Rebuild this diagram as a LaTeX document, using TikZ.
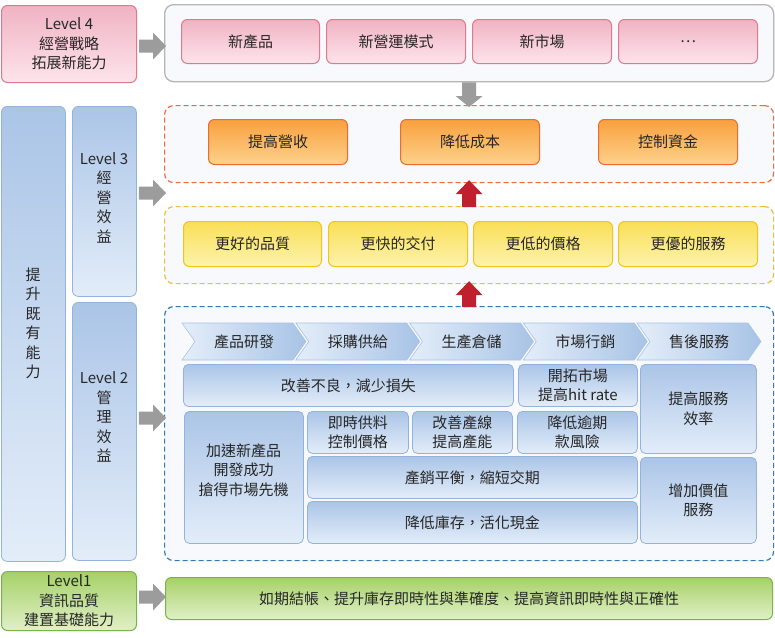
\documentclass[tikz,border=0pt]{standalone}
\usepackage{fontspec}
\setmainfont{Noto Sans CJK TC}
\usetikzlibrary{calc}
\definecolor{txt}{HTML}{262626}
\definecolor{pinkt}{HTML}{F0B3C3}
\definecolor{pinkb}{HTML}{FDE4EB}
\definecolor{pinkd}{HTML}{E0798D}
\definecolor{contf}{HTML}{F7F9FC}
\definecolor{contd}{HTML}{B5B5B5}
\definecolor{orat}{HTML}{F9A03E}
\definecolor{orab}{HTML}{FDD28C}
\definecolor{orad}{HTML}{F06A2E}
\definecolor{oradash}{HTML}{F26A3A}
\definecolor{yelt}{HTML}{F9DF58}
\definecolor{yelb}{HTML}{FDF3AC}
\definecolor{yeld}{HTML}{F3C51C}
\definecolor{yeldash}{HTML}{E8C03A}
\definecolor{blut}{HTML}{ABC5E7}
\definecolor{blub}{HTML}{E3EDF9}
\definecolor{blud}{HTML}{93B3DD}
\definecolor{bludash}{HTML}{2F7BC0}
\definecolor{chl}{HTML}{E4EEF9}
\definecolor{chr}{HTML}{A8C3E6}
\definecolor{grnt}{HTML}{A6D168}
\definecolor{grnb}{HTML}{E1F0C7}
\definecolor{grnd}{HTML}{78B548}
\definecolor{garr}{HTML}{9C9C9C}
\definecolor{rarr}{HTML}{C0202E}
\newcommand\fs{\fontsize{15}{19.5}\selectfont}
\newcommand\bx[7]{\node[#6, anchor=north west, minimum width={#4-#2}, minimum height={#5-#3}] (#1) at (#2,#3) {#7};}
\newcommand\harr[2]{\fill[garrow] ($(#1)+(0,-6.5)$) -- ($(#2)+(-13,-6.5)$) -- ($(#2)+(-13,-13.5)$) -- (#2) -- ($(#2)+(-13,13.5)$) -- ($(#2)+(-13,6.5)$) -- ($(#1)+(0,6.5)$) -- cycle;}
\newcommand\darr[3]{\fill[#1] ($(#2)+(-7,0)$) -- ($(#3)+(-7,-11)$) -- ($(#3)+(-13.5,-11)$) -- (#3) -- ($(#3)+(13.5,-11)$) -- ($(#3)+(7,-11)$) -- ($(#2)+(7,0)$) -- cycle;}
\newcommand\uarr[3]{\fill[#1] ($(#2)+(-7,0)$) -- ($(#3)+(-7,14)$) -- ($(#3)+(-13.5,14)$) -- (#3) -- ($(#3)+(13.5,14)$) -- ($(#3)+(7,14)$) -- ($(#2)+(7,0)$) -- cycle;}
\begin{document}
\begin{tikzpicture}[x=1pt,y=-1pt,
  every node/.style={text=txt, font=\fs, align=center, inner sep=0pt},
  pinkbox/.style={draw=pinkd, line width=1pt, rounded corners=6pt, top color=pinkt, bottom color=pinkb},
  orabox/.style={draw=orad, line width=1pt, rounded corners=6pt, top color=orat, bottom color=orab},
  yelbox/.style={draw=yeld, line width=1pt, rounded corners=6pt, top color=yelt, bottom color=yelb},
  blubox/.style={draw=blud, line width=0.8pt, rounded corners=6pt, top color=blut, bottom color=blub},
  bitem/.style={draw=blud, line width=0.8pt, rounded corners=5pt, top color=blut, bottom color=blub},
  grnbox/.style={draw=grnd, line width=1pt, rounded corners=6pt, top color=grnt, bottom color=grnb},
  graycont/.style={draw=contd, line width=1.3pt, rounded corners=9pt, fill=contf},
  dashcont/.style={line width=1.2pt, dash pattern=on 5pt off 3pt, rounded corners=9pt, fill=contf},
  chev/.style={draw=chr, line width=0.6pt, left color=chl, right color=chr},
  garrow/.style={fill=garr},
  rarrow/.style={fill=rarr}]
\useasboundingbox[fill=white] (0,0) rectangle (775,637);
% containers
\bx{top}{164}{4}{773}{81}{graycont}{}
\bx{c3}{164}{105}{773}{182}{dashcont, draw=oradash}{}
\bx{c2y}{164}{206}{773}{283}{dashcont, draw=yeldash}{}
\bx{c2}{164}{306}{773}{560}{dashcont, draw=bludash}{}
\bx{c1}{165}{577}{772}{619}{grnbox}{如期結帳、提升庫存即時性與準確度、提高資訊即時性與正確性}
% level boxes
\bx{l4}{1}{5}{136}{82}{pinkbox}{Level 4\\經營戰略\\拓展新能力}
\bx{lp}{1}{106}{65}{561}{blubox}{}
\bx{l3}{72}{106}{136}{296}{blubox}{}
\bx{l2}{72}{302}{136}{560}{blubox}{}
\bx{l1}{1}{571}{136}{630}{grnbox}{Level1\\資訊品質\\建置基礎能力}
\node (lpt) at (33,323.5) {提\\升\\既\\有\\能\\力};
\node (l3t) at (104,197.5) {Level 3\\經\\營\\效\\益};
\node (l2t) at (104,417) {Level 2\\管\\理\\效\\益};
% level 4 items
\bx{p1}{181}{19}{319}{63}{pinkbox}{新產品}
\bx{p2}{326}{19}{465}{63}{pinkbox}{新營運模式}
\bx{p3}{472}{19}{611}{63}{pinkbox}{新市場}
\bx{p4}{618}{19}{757}{63}{pinkbox}{…}
% level 3 items
\bx{o1}{208}{119}{347}{164}{orabox}{提高營收}
\bx{o2}{400}{119}{539}{164}{orabox}{降低成本}
\bx{o3}{598}{119}{737}{164}{orabox}{控制資金}
\bx{y1}{183}{221}{321}{266}{yelbox}{更好的品質}
\bx{y2}{328}{221}{467}{266}{yelbox}{更快的交付}
\bx{y3}{473}{221}{612}{266}{yelbox}{更低的價格}
\bx{y4}{618}{221}{757}{266}{yelbox}{更優的服務}
% chevrons
\foreach \i/\t [count=\n] in {0/產品研發, 1/採購供給, 2/生產倉儲, 3/市場行銷, 4/售後服務} {
  \pgfmathsetmacro\xa{182+113.75*\i}
  \path[chev] (\xa,323) -- ++(111,0) -- ++(13,18.5) -- ++(-13,18.5) -- ++(-111,0) -- ++(13,-18.5) -- cycle;
  \node (ch\n) at (\xa+62,341.5) {\t};
}
% level 2 items
\bx{b1}{183}{364}{513}{406}{bitem}{改善不良，減少損失}
\bx{b2}{518}{364}{637}{406}{bitem}{開拓市場\\提高hit rate}
\bx{b3}{640}{364}{756}{453}{bitem}{提高服務\\效率}
\bx{b4}{184}{411}{303}{543}{bitem}{}
\node (b4t) at (243.5,470) {加速新產品\\開發成功\\搶得市場先機};
\bx{b5}{307}{411}{408}{453}{bitem}{即時供料\\控制價格}
\bx{b6}{412}{411}{512}{453}{bitem}{改善產線\\提高產能}
\bx{b7}{517}{411}{637}{453}{bitem}{降低逾期\\款風險}
\bx{b8}{307}{456}{637}{498}{bitem}{產銷平衡，縮短交期}
\bx{b9}{307}{501}{637}{543}{bitem}{降低庫存，活化現金}
\bx{b10}{640}{457}{756}{543}{bitem}{增加價值\\服務}
% arrows
\coordinate (y4) at (0,46);
\coordinate (y3) at (0,193);
\coordinate (y2) at (0,418);
\coordinate (y1) at (0,597);
\coordinate (a4s) at ($(l4.east |- y4)+(2,0)$);
\coordinate (a4e) at ($(top.west |- y4)+(2,0)$);
\coordinate (a3s) at ($(l3.east |- y3)+(2,0)$);
\coordinate (a3e) at ($(c3.west |- y3)+(2,0)$);
\coordinate (a2s) at ($(l2.east |- y2)+(2,0)$);
\coordinate (a2e) at ($(c2.west |- y2)+(2,0)$);
\coordinate (a1s) at ($(l1.east |- y1)+(2,0)$);
\coordinate (a1e) at ($(c1.west |- y1)+(1,0)$);
\harr{a4s}{a4e}
\harr{a3s}{a3e}
\harr{a2s}{a2e}
\harr{a1s}{a1e}
\coordinate (d1s) at (top.south);
\coordinate (d1e) at ($(c3.north)+(0,2)$);
\darr{garrow}{d1s}{d1e}
\coordinate (u1s) at ($(c2y.north)+(0,1)$);
\coordinate (u1e) at ($(c3.south)+(0,-3)$);
\uarr{rarrow}{u1s}{u1e}
\coordinate (u2s) at ($(c2.north)+(0,1)$);
\coordinate (u2e) at ($(c2y.south)+(0,-3)$);
\uarr{rarrow}{u2s}{u2e}
\end{tikzpicture}
\end{document}
